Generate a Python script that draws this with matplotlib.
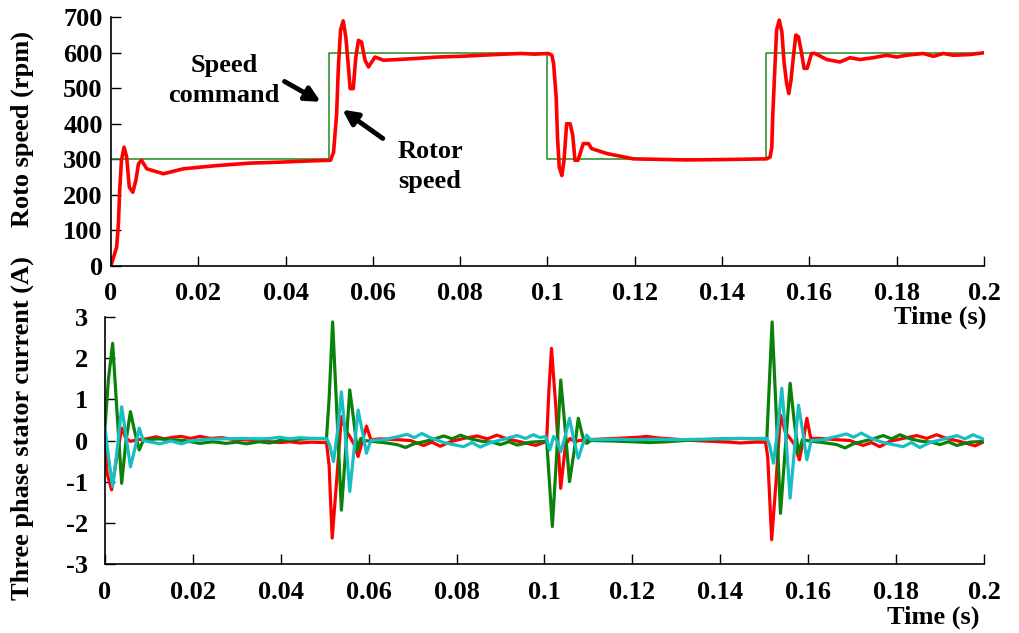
import matplotlib
matplotlib.use('Agg')
import matplotlib.pyplot as plt

plt.rcParams['font.family'] = 'Liberation Serif'
plt.rcParams['font.weight'] = 'bold'
plt.rcParams['axes.unicode_minus'] = False

# tick positions / labels
t_ticks = [0, 0.02, 0.04, 0.06, 0.08, 0.1, 0.12, 0.14, 0.16, 0.18, 0.2]
t_labels = ['0', '0.02', '0.04', '0.06', '0.08', '0.1', '0.12', '0.14', '0.16', '0.18', '0.2']
w_ticks = [0, 100, 200, 300, 400, 500, 600, 700]
i_ticks = [-3, -2, -1, 0, 1, 2, 3]

# speed command (rpm)
t_cmd = [0, 0.05, 0.05, 0.1, 0.1, 0.15, 0.15, 0.2]
w_cmd = [300, 300, 600, 600, 300, 300, 600, 600]

# rotor speed (rpm)
t_rotor = [0, 0.0013, 0.0017, 0.002, 0.0024, 0.003, 0.0036, 0.0042, 0.005, 0.0057,
           0.0063, 0.007, 0.0082, 0.012, 0.0166, 0.0242, 0.0318, 0.0394, 0.045, 0.0503,
           0.051, 0.0517, 0.0521, 0.0526, 0.0532, 0.0538, 0.0544, 0.0548, 0.0555, 0.0561,
           0.0567, 0.0574, 0.0582, 0.059, 0.0605, 0.0624, 0.0658, 0.07, 0.075, 0.08,
           0.085, 0.09, 0.094, 0.097, 0.1002, 0.101, 0.1014, 0.102, 0.1023, 0.1027,
           0.1033, 0.1038, 0.1044, 0.1052, 0.1058, 0.1063, 0.107, 0.1082, 0.1094, 0.1101,
           0.1136, 0.1197, 0.1319, 0.14, 0.1502, 0.151, 0.1514, 0.1516, 0.1521, 0.1525,
           0.1531, 0.1537, 0.1542, 0.1548, 0.1553, 0.1558, 0.1563, 0.1569, 0.1575, 0.1581,
           0.1588, 0.1595, 0.1605, 0.1613, 0.164, 0.167, 0.1693, 0.1716, 0.1746, 0.1777,
           0.18, 0.1822, 0.1861, 0.1884, 0.1907, 0.1929, 0.1968, 0.2]
w_rotor = [0, 52, 118, 212, 297, 334, 306, 221, 207, 240,
           287, 297, 273, 259, 273, 282, 289, 292, 295, 297,
           320, 428, 560, 664, 690, 645, 560, 499, 499, 588,
           635, 630, 579, 560, 588, 579, 581, 584, 588, 590,
           593, 596, 598, 596, 598, 593, 570, 475, 362, 278,
           254, 297, 400, 400, 367, 297, 297, 344, 344, 330,
           316, 301, 298, 299, 301, 306, 334, 419, 556, 664,
           692, 659, 574, 513, 485, 523, 584, 650, 645, 607,
           556, 556, 598, 598, 581, 574, 586, 581, 586, 593,
           588, 593, 598, 590, 598, 593, 595, 600]

# phase a (red)
t_ia = [0, 0.0005, 0.0015, 0.0027, 0.0038, 0.0048, 0.0058, 0.0075, 0.0095, 0.0116,
        0.0135, 0.0155, 0.0174, 0.0195, 0.0216, 0.024, 0.0265, 0.029, 0.0315, 0.034,
        0.0365, 0.0398, 0.042, 0.0444, 0.047, 0.0495, 0.0504,
        0.051, 0.0517, 0.0527, 0.0538, 0.0548, 0.0557, 0.0567, 0.0576, 0.0586, 0.0595, 0.0605,
        0.0627, 0.0665, 0.0695, 0.0725, 0.0744, 0.0763, 0.0786, 0.0816, 0.0847, 0.087,
        0.0892, 0.0915, 0.0945, 0.0965, 0.098, 0.0998, 0.1005,
        0.101, 0.1016, 0.1026, 0.1037, 0.1048, 0.1058, 0.1068, 0.108,
        0.11, 0.114, 0.118, 0.1215, 0.1232, 0.126, 0.13, 0.134, 0.138, 0.142,
        0.1445, 0.148, 0.1503,
        0.1508, 0.1517, 0.1527, 0.1537, 0.1548, 0.1559, 0.1569, 0.158, 0.1589, 0.1597, 0.1606,
        0.1627, 0.1665, 0.1695, 0.1725, 0.1744, 0.1763, 0.1786, 0.1816, 0.1847, 0.187,
        0.1892, 0.1915, 0.1945, 0.198, 0.2]
ia = [0, -0.8, -1.2, -0.4, 0.3, 0.05, -0.02, 0.02, 0.04, 0.09,
      0.04, 0.08, 0.1, 0.05, 0.1, 0.05, 0.07, 0.03, 0.02, 0.0,
      -0.02, -0.05, -0.03, -0.06, -0.04, -0.05, -0.05,
      -0.6, -2.37, -1.0, 0.58, 0.25, 0.1, -0.1, -0.39, 0.0, 0.35, 0.02,
      0.04, 0.02, 0.0, -0.12, -0.04, -0.14, -0.03, 0.05, 0.11, 0.04,
      0.13, 0.04, -0.03, -0.08, -0.12, -0.05, 0.0,
      1.2, 2.24, 0.8, -1.16, -0.1, 0.05, -0.03, 0.0,
      0.02, 0.04, 0.06, 0.08, 0.1, 0.06, 0.03, 0.0, -0.02, -0.04,
      -0.06, -0.04, -0.04,
      -0.4, -2.41, -1.0, 0.62, 0.2, 0.05, -0.1, -0.47, 0.0, 0.54, 0.05,
      0.05, 0.02, 0.0, -0.12, -0.05, -0.15, -0.02, 0.05, 0.12, 0.05,
      0.14, 0.05, -0.02, -0.13, -0.03]

# phase b (green)
t_ib = [0, 0.0008, 0.00175, 0.0028, 0.0038, 0.0048, 0.0058, 0.0068, 0.0078, 0.0087,
        0.0095, 0.012, 0.015, 0.018, 0.0216, 0.0245, 0.0275, 0.03, 0.0322, 0.035,
        0.0375, 0.0398, 0.0444, 0.047, 0.0504,
        0.051, 0.0518, 0.0528, 0.0538, 0.0548, 0.0557, 0.0566, 0.0574, 0.0582, 0.059,
        0.0634, 0.0665, 0.0684, 0.0703, 0.0725, 0.0748, 0.0771, 0.079, 0.0809, 0.0832,
        0.0858, 0.0881, 0.09, 0.0919, 0.0938, 0.0968, 0.1, 0.1005,
        0.101, 0.1018, 0.1027, 0.1037, 0.1047, 0.1057, 0.1067, 0.1077, 0.1087, 0.1096, 0.1105,
        0.11, 0.115, 0.12, 0.124, 0.128, 0.132, 0.136, 0.14, 0.1445, 0.148, 0.1506,
        0.151, 0.1518, 0.1528, 0.1537, 0.1548, 0.1559, 0.1568, 0.1578, 0.1587, 0.1597, 0.161,
        0.1634, 0.1665, 0.1684, 0.1703, 0.1725, 0.1748, 0.1771, 0.179, 0.1809, 0.1832,
        0.1858, 0.1881, 0.19, 0.1919, 0.1938, 0.1968, 0.2]
ib = [0.3, 1.5, 2.36, 0.6, -1.04, 0.0, 0.7, 0.2, -0.23, 0.0,
      0.02, 0.04, 0.02, 0.0, -0.07, -0.03, -0.07, -0.04, -0.08, -0.03,
      -0.06, 0.0, 0.03, 0.05, 0.04,
      1.0, 2.88, 0.6, -1.69, -0.2, 1.23, 0.5, -0.23, 0.05, 0.0,
      -0.05, -0.1, -0.17, -0.08, -0.03, 0.03, 0.11, 0.04, 0.13, 0.04,
      -0.02, -0.04, -0.1, -0.03, -0.11, -0.04, -0.02, 0.0,
      -0.8, -2.09, -0.5, 1.47, 0.3, -1.0, -0.3, 0.54, 0.1, -0.07, 0.0,
      0.0, -0.01, -0.03, -0.05, -0.03, 0.0, 0.02, 0.04, 0.05, 0.04, 0.04,
      1.0, 2.88, 0.5, -1.77, -0.2, 1.39, 0.5, -0.31, 0.02, 0.0, -0.02,
      -0.05, -0.1, -0.18, -0.08, -0.02, 0.04, 0.12, 0.04, 0.14, 0.04,
      -0.02, -0.04, -0.1, -0.03, -0.12, -0.04, -0.02]

# phase c (cyan)
t_ic = [0, 0.0008, 0.00175, 0.0028, 0.0038, 0.0048, 0.0058, 0.0068, 0.0078, 0.0087,
        0.0095, 0.0125, 0.015, 0.0174, 0.0195, 0.023, 0.027, 0.031, 0.035, 0.0375,
        0.0398, 0.042, 0.0444, 0.047, 0.0504,
        0.0511, 0.052, 0.0529, 0.0538, 0.0548, 0.0557, 0.0567, 0.0576, 0.0586, 0.0595, 0.0605,
        0.0634, 0.0665, 0.0687, 0.0704, 0.0721, 0.0744, 0.0771, 0.0793, 0.0816, 0.0835,
        0.0854, 0.0877, 0.0907, 0.0938, 0.0957, 0.0975, 0.099, 0.1003,
        0.1012, 0.1021, 0.1028, 0.1037, 0.1047, 0.1057, 0.1067, 0.1077, 0.1087, 0.1096, 0.1105,
        0.112, 0.116, 0.12, 0.125, 0.13, 0.135, 0.14, 0.1445, 0.148, 0.1506,
        0.1512, 0.1521, 0.153, 0.154, 0.155, 0.1559, 0.1569, 0.1578, 0.1588, 0.1597, 0.1607,
        0.1634, 0.1665, 0.1687, 0.1704, 0.1721, 0.1744, 0.1771, 0.1793, 0.1816, 0.1835,
        0.1854, 0.1877, 0.1907, 0.1938, 0.1957, 0.1975, 0.2]
ic = [0.33, -0.4, -1.12, -0.2, 0.82, 0.1, -0.64, -0.2, 0.3, 0.0,
      -0.02, -0.08, -0.01, -0.08, -0.01, 0.03, 0.04, 0.05, 0.04, 0.05,
      0.08, 0.04, 0.07, 0.05, 0.05,
      -0.1, -0.51, 0.2, 1.18, 0.0, -1.24, -0.2, 0.74, 0.2, -0.31, 0.0,
      0.02, 0.09, 0.15, 0.07, 0.17, 0.05, -0.05, -0.1, -0.15, -0.05,
      -0.16, -0.05, 0.03, 0.12, 0.05, 0.14, 0.07, 0.1,
      -0.23, 0.1, 0.0, -0.27, 0.1, 0.54, 0.0, -0.43, -0.1, 0.13, 0.02,
      0.02, 0.03, 0.02, 0.03, 0.02, 0.03, 0.04, 0.05, 0.05, 0.05,
      -0.1, -0.55, 0.2, 1.27, 0.0, -1.4, -0.2, 0.86, 0.2, -0.47, 0.0,
      0.02, 0.1, 0.16, 0.08, 0.18, 0.05, -0.05, -0.1, -0.15, -0.05,
      -0.17, -0.05, 0.03, 0.12, 0.04, 0.14, 0.03]

fig = plt.figure(figsize=(10.19, 6.33), dpi=100)
ax1 = fig.add_axes([0.1089, 0.5803, 0.8567, 0.3924])
ax2 = fig.add_axes([0.1030, 0.1090, 0.8626, 0.3902])

# top: speed
ax1.plot(t_cmd, w_cmd, color='#1e8c1e', lw=1.1)
ax1.plot(t_rotor, w_rotor, color='#ff0000', lw=2.6)
ax1.set_xlim(0, 0.2)
ax1.set_ylim(0, 700)
ax1.set_yticks(w_ticks)
ax1.set_xticks(t_ticks)
ax1.set_xticklabels(t_labels)

ax1.annotate('', xy=(0.0486, 458), xytext=(0.0392, 523),
             arrowprops=dict(arrowstyle='-|>', color='black', lw=3.5, mutation_scale=22))
ax1.annotate('', xy=(0.0525, 444), xytext=(0.0628, 354),
             arrowprops=dict(arrowstyle='-|>', color='black', lw=3.5, mutation_scale=22))
ax1.text(0.0259, 522, 'Speed\ncommand', ha='center', va='center', fontsize=19,
         fontweight='bold', linespacing=1.4)
ax1.text(0.0731, 280, 'Rotor\nspeed', ha='center', va='center', fontsize=19,
         fontweight='bold', linespacing=1.4)

# bottom: currents
ax2.plot(t_ia, ia, color='#ff0000', lw=2.3)
ax2.plot(t_ib, ib, color='#0a820a', lw=2.3)
ax2.plot(t_ic, ic, color='#17bfc4', lw=2.3)
ax2.set_xlim(0, 0.2)
ax2.set_ylim(-3, 3)
ax2.set_yticks(i_ticks)
ax2.set_xticks(t_ticks)
ax2.set_xticklabels(t_labels)

for ax in (ax1, ax2):
    for s in ('top', 'right'):
        ax.spines[s].set_visible(False)
    ax.spines['left'].set_linewidth(1.2)
    ax.spines['bottom'].set_linewidth(1.2)
    ax.tick_params(direction='in', length=7, width=1, labelsize=19)
    ax.tick_params(axis='x', pad=12)
    for lab in ax.get_xticklabels() + ax.get_yticklabels():
        lab.set_fontweight('bold')
ax1.tick_params(axis='y', pad=6)
ax2.tick_params(axis='y', pad=12)

fig.text(0.9685, 0.4995, 'Time (s)', ha='right', va='center', fontsize=19, fontweight='bold')
fig.text(0.9617, 0.025, 'Time (s)', ha='right', va='center', fontsize=19, fontweight='bold')
fig.text(0.022, 0.796, 'Roto speed (rpm)', rotation=90, ha='center', va='center',
         fontsize=19, fontweight='bold')
fig.text(0.022, 0.324, 'Three phase stator current (A)', rotation=90, ha='center',
         va='center', fontsize=19, fontweight='bold')

fig.savefig('out.png', dpi=100)
